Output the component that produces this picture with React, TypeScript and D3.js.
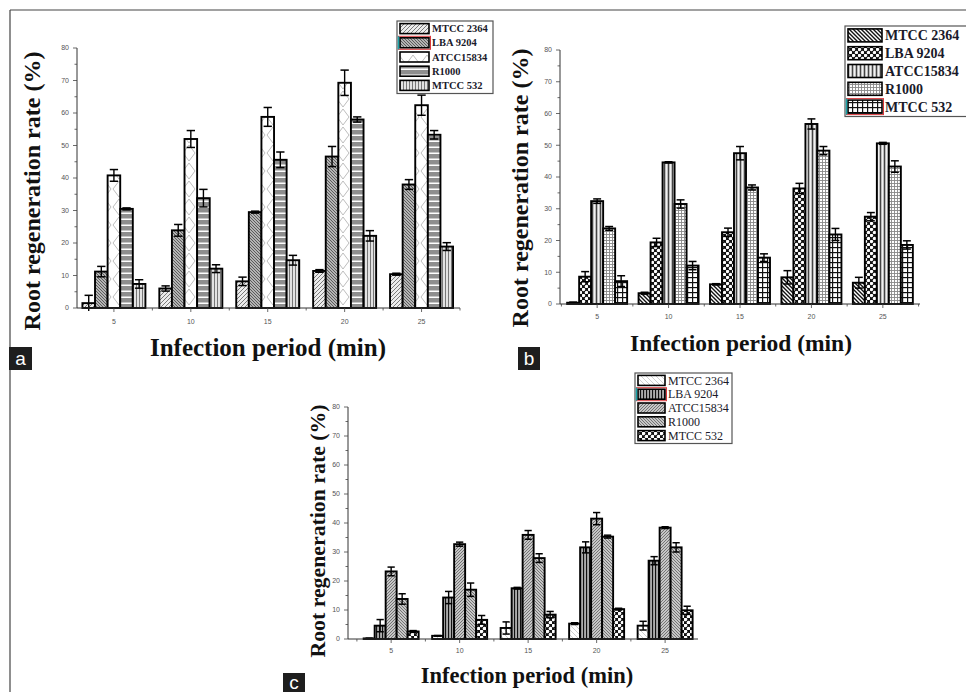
import React from 'react';
import * as d3 from 'd3';

const strains = ['MTCC 2364', 'LBA 9204', 'ATCC15834', 'R1000', 'MTCC 532'];
const periods = [5, 10, 15, 20, 25];
const yTicks = [0, 10, 20, 30, 40, 50, 60, 70, 80];

// rows = strains, columns = periods
const rateA = [
  [1.5, 6, 8.2, 11.4, 10.4],
  [11.2, 23.9, 29.5, 46.6, 38],
  [40.8, 52, 58.8, 69.3, 62.4],
  [30.5, 33.8, 45.6, 58, 53.3],
  [7.4, 12.1, 14.7, 22.2, 18.9],
];
const errA = [
  [2.4, 0.8, 1.3, 0.4, 0.3],
  [1.6, 1.8, 0.3, 3.1, 1.5],
  [1.8, 2.6, 2.9, 3.9, 3.1],
  [0.3, 2.7, 2.4, 0.8, 1.3],
  [1.3, 1.2, 1.5, 1.6, 1.2],
];
const rateB = [
  [0.4, 3.4, 6.2, 8.4, 6.7],
  [8.6, 19.4, 22.6, 36.4, 27.5],
  [32.4, 44.6, 47.5, 56.7, 50.6],
  [23.8, 31.5, 36.7, 48.3, 43.3],
  [7.2, 12.1, 14.6, 21.9, 18.6],
];
const errB = [
  [0.2, 0.3, 0.2, 2.1, 1.7],
  [1.6, 1.3, 1.3, 1.6, 1.3],
  [0.7, 0.2, 2.1, 1.6, 0.3],
  [0.6, 1.3, 0.8, 1.3, 1.8],
  [1.7, 1.3, 1.2, 1.9, 1.3],
];
const rateC = [
  [0.2, 1.1, 3.8, 5.3, 4.6],
  [4.6, 14.3, 17.5, 31.6, 27],
  [23.3, 32.7, 35.9, 41.5, 38.4],
  [13.8, 17, 27.9, 35.3, 31.6],
  [2.6, 6.6, 8.4, 10.3, 9.9],
];
const errC = [
  [0.1, 0.1, 2.1, 0.3, 1.5],
  [2.1, 2.1, 0.3, 1.9, 1.4],
  [1.5, 0.7, 1.5, 2.1, 0.3],
  [1.8, 2.3, 1.5, 0.5, 1.6],
  [0.3, 1.5, 1.1, 0.3, 1.4],
];

const SERIF = '"Liberation Serif", "Times New Roman", serif';

const panels = [
  {
    key: 'a', rate: rateA, err: errA, fills: ['a0', 'a1', 'a2', 'a3', 'a4'],
    axisX: 77, axisEnd: 460, y0: 308, yTop: 48, xDomain: [2.6, 27.5], groupW: 63,
    yTitle: [32, 191, 24], xTitle: [268, 356, 25], tickDy: 16,
    legend: { x: 397, y: 21, w: 96, rowH: 14.2, swW: 29, swH: 10, font: 10.5, bold: true, mark: 1 },
    tag: [9, 347, 23, 23],
  },
  {
    key: 'b', rate: rateB, err: errB, fills: ['b0', 'b1', 'b2', 'b3', 'b4'],
    axisX: 560, axisEnd: 920, y0: 304, yTop: 50, xDomain: [2.4, 27.6], groupW: 60,
    yTitle: [520, 188, 24], xTitle: [741, 351, 23.5], tickDy: 15,
    legend: { x: 845, y: 26, w: 125, rowH: 17.8, swW: 34, swH: 13, font: 14, bold: true, mark: 4 },
    tag: [518, 347, 22, 23],
  },
  {
    key: 'c', rate: rateC, err: errC, fills: ['c0', 'c1', 'c2', 'c3', 'c4'],
    axisX: 348, axisEnd: 698, y0: 639, yTop: 407, xDomain: [1.85, 27.4], groupW: 55,
    yTitle: [317, 531, 21.8], xTitle: [527, 683, 22.5], tickDy: 14,
    legend: { x: 635, y: 373, w: 97, rowH: 13.8, swW: 27, swH: 10, font: 12, bold: false, mark: 1 },
    tag: [283, 673, 22, 19],
  },
];

function Hatch({ id, size, bg, stroke, w, dir }: any) {
  const d = dir === '/'
    ? `M${-size / 4},${size / 4} l${size / 2},${-size / 2} M0,${size} l${size},${-size} M${size * 0.75},${size * 1.25} l${size / 2},${-size / 2}`
    : `M${-size / 4},${size * 0.75} l${size / 2},${size / 2} M0,0 l${size},${size} M${size * 0.75},${-size / 4} l${size / 2},${size / 2}`;
  return (
    <pattern id={id} patternUnits="userSpaceOnUse" width={size} height={size}>
      <rect width={size} height={size} fill={bg} />
      <path d={d} stroke={stroke} strokeWidth={w} />
    </pattern>
  );
}

function Defs() {
  return (
    <defs>
      <Hatch id="a0" size={4} bg="#ececec" stroke="#7a7a7a" w={1} dir="/" />
      <Hatch id="a1" size={3} bg="#dadada" stroke="#555" w={1.1} dir="\" />
      <pattern id="a2" patternUnits="userSpaceOnUse" width={14} height={18}>
        <rect width={14} height={18} fill="#fff" />
        <path d="M7,1 L13,9 L7,17 L1,9 Z" fill="none" stroke="#bdbdbd" strokeWidth={1} />
      </pattern>
      <pattern id="a3" patternUnits="userSpaceOnUse" width={6} height={6}>
        <rect width={6} height={6} fill="#8e8e8e" />
        <rect y={2.5} width={6} height={1.5} fill="#fff" />
      </pattern>
      <pattern id="a4" patternUnits="userSpaceOnUse" width={3} height={3}>
        <rect width={3} height={3} fill="#e2e2e2" />
        <rect x={1} width={1} height={3} fill="#777" />
      </pattern>

      <Hatch id="b0" size={4} bg="#fff" stroke="#111" w={1.4} dir="\" />
      <pattern id="b1" patternUnits="userSpaceOnUse" width={6} height={6}>
        <rect width={6} height={6} fill="#111" />
        <circle cx={1.5} cy={1.5} r={1.7} fill="#fff" />
        <circle cx={4.5} cy={4.5} r={1.7} fill="#fff" />
      </pattern>
      <pattern id="b2" patternUnits="userSpaceOnUse" width={4} height={4}>
        <rect width={4} height={4} fill="#bdbdbd" />
        <rect x={0} width={1} height={4} fill="#444" />
        <rect x={2} width={1} height={4} fill="#f2f2f2" />
      </pattern>
      <pattern id="b3" patternUnits="userSpaceOnUse" width={3} height={3}>
        <rect width={3} height={3} fill="#fff" />
        <rect width={3} height={0.9} fill="#888" />
        <rect width={0.9} height={3} fill="#888" />
      </pattern>
      <pattern id="b4" patternUnits="userSpaceOnUse" width={5} height={5}>
        <rect width={5} height={5} fill="#fff" />
        <rect y={2} width={5} height={1.2} fill="#111" />
        <rect x={2} width={1.2} height={5} fill="#111" />
      </pattern>

      <Hatch id="c0" size={5} bg="#fff" stroke="#cfcfcf" w={1} dir="\" />
      <pattern id="c1" patternUnits="userSpaceOnUse" width={3} height={3}>
        <rect width={3} height={3} fill="#ababab" />
        <rect x={1} width={1.1} height={3} fill="#111" />
      </pattern>
      <Hatch id="c2" size={3} bg="#c6c6c6" stroke="#737373" w={1} dir="/" />
      <Hatch id="c3" size={3} bg="#c6c6c6" stroke="#737373" w={1} dir="\" />
      <pattern id="c4" patternUnits="userSpaceOnUse" width={6} height={6}>
        <rect width={6} height={6} fill="#111" />
        <circle cx={1.5} cy={1.5} r={1.8} fill="#fff" />
        <circle cx={4.5} cy={4.5} r={1.8} fill="#fff" />
      </pattern>
    </defs>
  );
}

function Panel({ p }: any) {
  const x = d3.scaleLinear().domain(p.xDomain).range([p.axisX, p.axisEnd]);
  const y = d3.scaleLinear().domain([0, 80]).range([p.y0, p.yTop]);
  const inner = d3.scaleBand<string>().domain(strains).range([-p.groupW / 2, p.groupW / 2]).padding(0);
  const bw = inner.bandwidth();
  const minorY = y.ticks(16);
  const minorX = d3.range(2.5, 27.6, 2.5);
  const lg = p.legend;

  return (
    <g>
      {/* bars */}
      {strains.map((s, si) =>
        periods.map((per, pi) => {
          const v = p.rate[si][pi];
          const e = p.err[si][pi];
          const bx = x(per) + (inner(s) as number);
          const cx = bx + bw / 2;
          return (
            <g key={s + per}>
              <rect x={bx} y={y(v)} width={bw} height={p.y0 - y(v)}
                fill={`url(#${p.fills[si]})`} stroke="#000" strokeWidth={1.9} />
              <line x1={cx} x2={cx} y1={y(v - e)} y2={y(v + e)} stroke="#000" strokeWidth={1.4} />
              <line x1={cx - bw * 0.33} x2={cx + bw * 0.33} y1={y(v + e)} y2={y(v + e)} stroke="#000" strokeWidth={1.5} />
              <line x1={cx - bw * 0.33} x2={cx + bw * 0.33} y1={y(Math.max(0, v - e))} y2={y(Math.max(0, v - e))} stroke="#000" strokeWidth={1.5} />
            </g>
          );
        })
      )}

      {/* axes */}
      <line x1={p.axisX} x2={p.axisX} y1={p.y0} y2={p.yTop} stroke="#333" strokeWidth={1} />
      <line x1={p.axisX} x2={p.axisEnd} y1={p.y0} y2={p.y0} stroke="#333" strokeWidth={1} />
      {minorY.map((t) => (
        <line key={'yt' + t} x1={p.axisX - (t % 10 === 0 ? 4 : 2.5)} x2={p.axisX}
          y1={y(t)} y2={y(t)} stroke="#444" strokeWidth={0.8} />
      ))}
      {yTicks.map((t) => (
        <text key={'yl' + t} x={p.axisX - 8} y={y(t)} dy="0.35em" textAnchor="end"
          fontSize={7} fill="#555" fontFamily='"Liberation Sans", sans-serif'>{t}</text>
      ))}
      {minorX.filter((t) => x(t) >= p.axisX && x(t) <= p.axisEnd).map((t) => (
        <line key={'xt' + t} x1={x(t)} x2={x(t)} y1={p.y0} y2={p.y0 + (t % 5 === 0 ? 4 : 2.5)}
          stroke="#444" strokeWidth={0.8} />
      ))}
      {periods.map((t) => (
        <text key={'xl' + t} x={x(t)} y={p.y0 + p.tickDy} textAnchor="middle"
          fontSize={7} fill="#555" fontFamily='"Liberation Sans", sans-serif'>{t}</text>
      ))}

      {/* titles */}
      <text transform={`translate(${p.yTitle[0]},${p.yTitle[1]}) rotate(-90)`} dy="0.35em"
        textAnchor="middle" fontFamily={SERIF} fontWeight="bold" fontSize={p.yTitle[2]} fill="#111">
        Root regeneration rate (%)
      </text>
      <text x={p.xTitle[0]} y={p.xTitle[1]} textAnchor="middle" fontFamily={SERIF}
        fontWeight="bold" fontSize={p.xTitle[2]} fill="#111">
        Infection period (min)
      </text>

      {/* legend */}
      <rect x={lg.x} y={lg.y} width={lg.w} height={lg.rowH * 5 + 1.5} fill="#fff" stroke="#555" strokeWidth={1.2} />
      {strains.map((s, si) => {
        const cy = lg.y + lg.rowH * (si + 0.5) + 0.5;
        return (
          <g key={'lg' + s}>
            <rect x={lg.x + 3} y={cy - lg.swH / 2} width={lg.swW} height={lg.swH}
              fill={`url(#${p.fills[si]})`} stroke="#000" strokeWidth={1.6} />
            {si === lg.mark && (
              <g>
                <rect x={lg.x + 1.5} y={cy - lg.swH / 2 - 1.5} width={lg.swW + 3} height={lg.swH + 3}
                  fill="none" stroke="#d9373b" strokeWidth={1} />
                <line x1={lg.x + 1.5} x2={lg.x + 1.5} y1={cy - lg.swH / 2 - 1.5} y2={cy + lg.swH / 2 + 1.5}
                  stroke="#1aa3a8" strokeWidth={1.5} />
              </g>
            )}
            <text x={lg.x + lg.swW + 6} y={cy} dy="0.35em" fontFamily={SERIF}
              fontWeight={lg.bold ? 'bold' : 'normal'} fontSize={lg.font} fill="#1a1a2a">{s}</text>
          </g>
        );
      })}

      {/* panel tag */}
      <rect x={p.tag[0]} y={p.tag[1]} width={p.tag[2]} height={p.tag[3]} fill="#1e1e1e" />
      <text x={p.tag[0] + p.tag[2] / 2} y={p.tag[1] + p.tag[3] / 2} dy="0.36em" textAnchor="middle"
        fontFamily='"Liberation Sans", Arial, sans-serif' fontSize={19} fill="#fff">{p.key}</text>
    </g>
  );
}

export default function App() {
  return (
    <svg width={966} height={692} style={{ position: 'absolute', left: 0, top: 0, background: '#fff' }}>
      <Defs />
      <rect width={966} height={692} fill="#fff" />
      <line x1={10} x2={966} y1={10} y2={10} stroke="#444" strokeWidth={1.2} />
      <line x1={10} x2={10} y1={10} y2={692} stroke="#444" strokeWidth={1.2} />
      {panels.map((p) => (
        <Panel key={p.key} p={p} />
      ))}
    </svg>
  );
}
